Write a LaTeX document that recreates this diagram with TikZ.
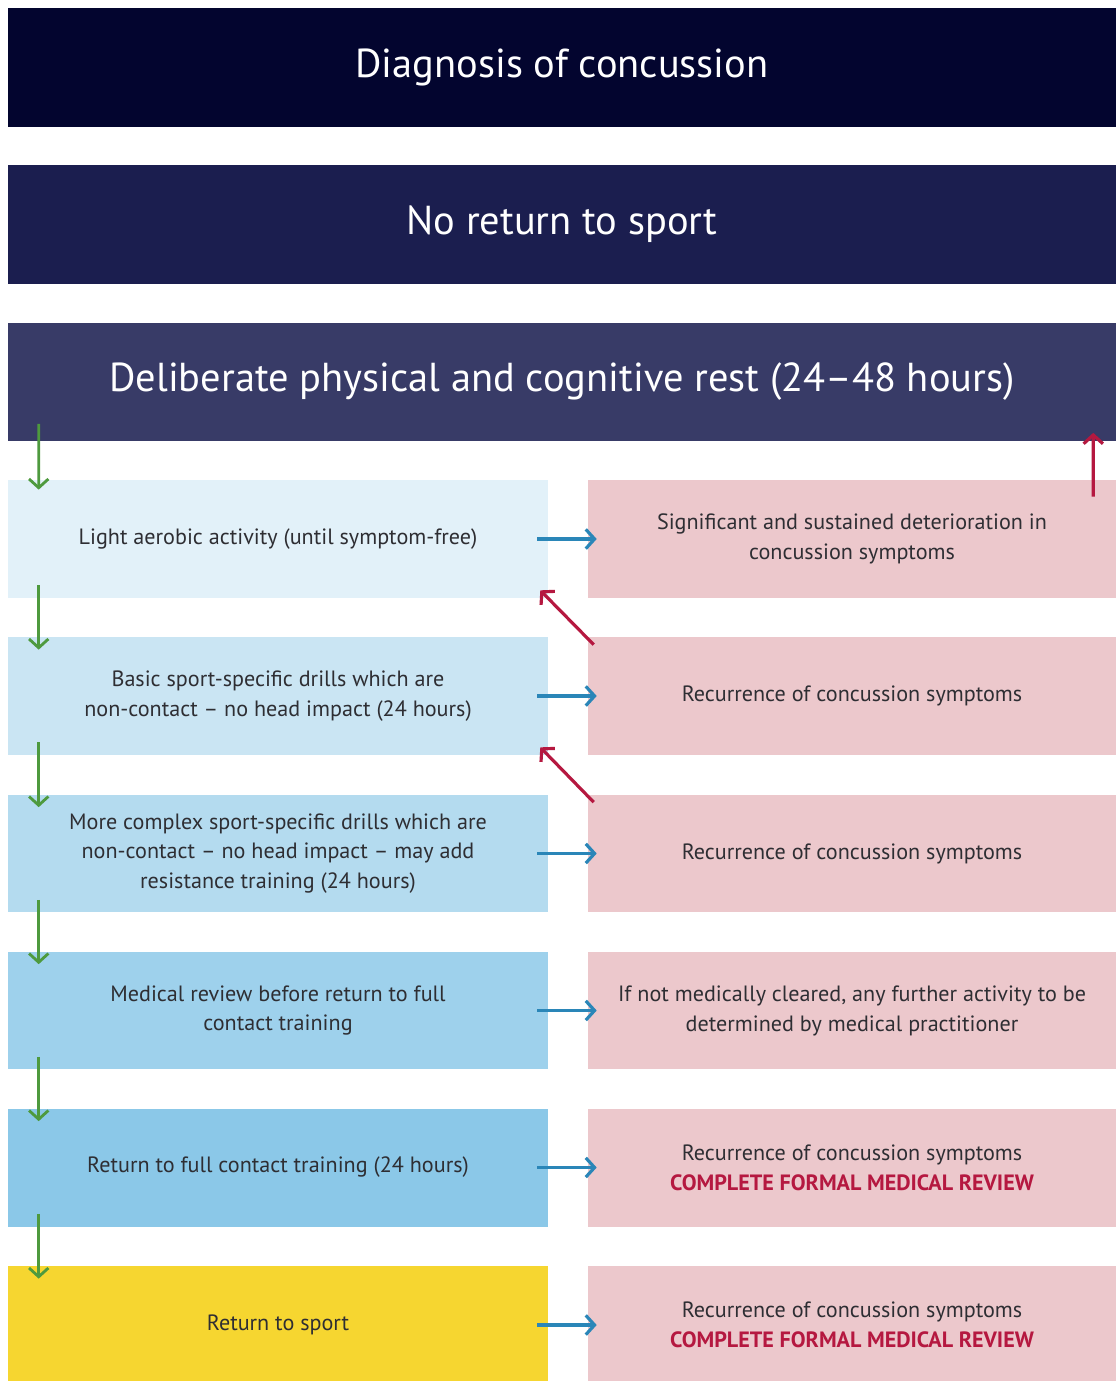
\documentclass[tikz,border=0pt]{standalone}
\usepackage{fontspec}
\setmainfont{PT Sans}
\usetikzlibrary{arrows.meta,positioning}

\definecolor{navyA}{HTML}{03052F}
\definecolor{navyB}{HTML}{1B1E4F}
\definecolor{navyC}{HTML}{383B67}
\definecolor{stepA}{HTML}{E2F1F9}
\definecolor{stepB}{HTML}{CAE5F3}
\definecolor{stepC}{HTML}{B4DBEF}
\definecolor{stepD}{HTML}{9ED1EC}
\definecolor{stepE}{HTML}{8BC8E8}
\definecolor{stepF}{HTML}{F6D630}
\definecolor{alertbg}{HTML}{ECC8CC}
\definecolor{txt}{HTML}{2E2E33}
\definecolor{goarrow}{HTML}{4E9A3E}
\definecolor{sidearrow}{HTML}{2A86B8}
\definecolor{backarrow}{HTML}{B51840}

\tikzset{
  banner/.style={fill=#1, text=white, minimum width=22.16cm, minimum height=2.38cm,
    inner sep=0pt, font=\fontsize{23}{27}\selectfont},
  stepbox/.style={fill=#1, text=txt, minimum width=10.8cm, minimum height=2.36cm,
    inner sep=2pt, align=center, font=\fontsize{12.6}{17}\selectfont},
  alertbox/.style={fill=alertbg, text=txt, minimum width=10.56cm, minimum height=2.36cm,
    inner sep=2pt, align=center, font=\fontsize{12.6}{17}\selectfont},
  goline/.style={draw=goarrow, line width=1.6pt, -{Straight Barb[length=5pt,width=11pt]}},
  sideline/.style={draw=sidearrow, line width=1.8pt, -{Straight Barb[length=5pt,width=11pt]}},
  backline/.style={draw=backarrow, line width=1.8pt, -{Straight Barb[length=5pt,width=11pt]}}
}
\newcommand{\review}{\textcolor{backarrow}{\bfseries\fontsize{12.6}{17}\selectfont COMPLETE FORMAL MEDICAL REVIEW}}

\begin{document}
\begin{tikzpicture}[x=0.02cm, y=-0.02cm]
\useasboundingbox[fill=white] (0,0) rectangle (1116,1381);

% headers
\node[banner=navyA] (diag) at (562,67.5) {Diagnosis of concussion};
\node[banner=navyB] (norts) at (562,224.5) {No return to sport};
\node[banner=navyC] (rest) at (562,382) {Deliberate physical and cognitive rest (24--48 hours)};

% stages
\node[stepbox=stepA] (s1) at (278,539) {Light aerobic activity (until symptom-free)};
\node[stepbox=stepB] (s2) at (278,696) {Basic sport-specific drills which are\\non-contact -- no head impact (24 hours)};
\node[stepbox=stepC] (s3) at (278,853.5) {More complex sport-specific drills which are\\non-contact -- no head impact -- may add\\resistance training (24 hours)};
\node[stepbox=stepD] (s4) at (278,1010.5) {Medical review before return to full\\contact training};
\node[stepbox=stepE] (s5) at (278,1167.5) {Return to full contact training (24 hours)};
\node[stepbox=stepF] (s6) at (278,1325) {Return to sport};

% outcomes
\node[alertbox] (r1) at (852,539) {Significant and sustained deterioration in\\concussion symptoms};
\node[alertbox] (r2) at (852,696) {Recurrence of concussion symptoms};
\node[alertbox] (r3) at (852,853.5) {Recurrence of concussion symptoms};
\node[alertbox] (r4) at (852,1010.5) {If not medically cleared, any further activity to be\\determined by medical practitioner};
\node[alertbox] (r5) at (852,1167.5) {Recurrence of concussion symptoms\\\review};
\node[alertbox] (r6) at (852,1325) {Recurrence of concussion symptoms\\\review};

% progression
\draw[goline] ([shift={(31,-18)}]rest.south west) -- ([shift={(31,10)}]s1.north west);
\foreach \a/\b in {s1/s2,s2/s3,s3/s4,s4/s5,s5/s6}
  \draw[goline] ([shift={(31,-13)}]\a.south west) -- ([shift={(31,13)}]\b.north west);

% side outcomes
\foreach \i in {1,...,6}
  \draw[sideline] ([shift={(-11,0)}]s\i.east) -- ([shift={(9,0)}]r\i.west);

% going back
\draw[backline] ([shift={(-23,17)}]r1.north east) -- ([shift={(-23,-9)}]rest.south east);
\draw[backline] ([shift={(6,8)}]r2.north west) -- ([shift={(-8,-8)}]s1.south east);
\draw[backline] ([shift={(6,8)}]r3.north west) -- ([shift={(-8,-8)}]s2.south east);
\end{tikzpicture}
\end{document}
